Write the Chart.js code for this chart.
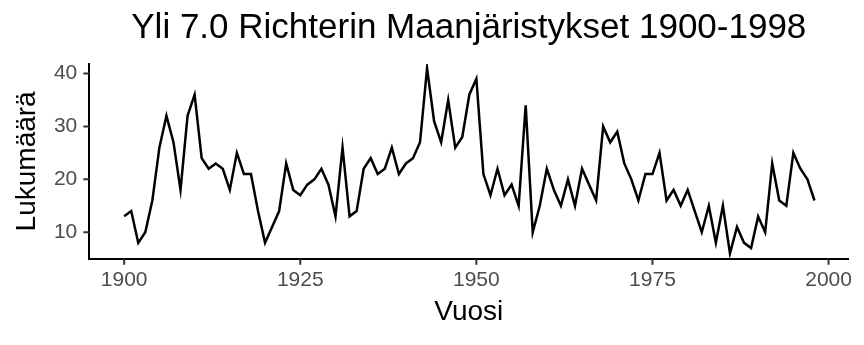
<!DOCTYPE html>
<html>
<head>
<meta charset="utf-8">
<script src="https://cdn.jsdelivr.net/npm/chart.js@4/dist/chart.umd.min.js"></script>
<style>
  html, body { margin: 0; padding: 0; background: #fff; }
  #quakeChart { display: block; }
</style>
</head>
<body>
<canvas id="quakeChart" width="864" height="345"></canvas>
<script>
// Vuodet 1900-1998 ja yli 7.0 Richterin maanjäristysten lukumäärä
const years = [];
for (let y = 1900; y <= 1998; y++) years.push(y);

const quakes = [
  13, 14, 8, 10, 16, 26, 32, 27, 18, 32,
  36, 24, 22, 23, 22, 18, 25, 21, 21, 14,
  8, 11, 14, 23, 18, 17, 19, 20, 22, 19,
  13, 26, 13, 14, 22, 24, 21, 22, 26, 21,
  23, 24, 27, 41, 31, 27, 35, 26, 28, 36,
  39, 21, 17, 22, 17, 19, 15, 34, 10, 15,
  22, 18, 15, 20, 15, 22, 19, 16, 30, 27,
  29, 23, 20, 16, 21, 21, 25, 16, 18, 15,
  18, 14, 10, 15, 8, 15, 6, 11, 8, 7,
  13, 10, 23, 16, 15, 25, 22, 20, 16
];

const xTicks = [1900, 1925, 1950, 1975, 2000];
const yTicks = [10, 20, 30, 40];

const FONT = "'Liberation Sans', Arial, Helvetica, sans-serif";
const TICK_GREY = '#4d4d4d';

// pienet tikkiviivat akselien ulkopuolelle (skaalan omista pikseleistä)
const tickMarks = {
  id: 'tickMarks',
  afterDraw(chart) {
    const { ctx, chartArea: a, scales: { x, y } } = chart;
    ctx.save();
    ctx.strokeStyle = '#333';
    ctx.lineWidth = 2;
    ctx.beginPath();
    xTicks.forEach(v => {
      const px = x.getPixelForValue(v);
      ctx.moveTo(px, a.bottom);
      ctx.lineTo(px, a.bottom + 6);
    });
    yTicks.forEach(v => {
      const py = y.getPixelForValue(v);
      ctx.moveTo(a.left, py);
      ctx.lineTo(a.left - 6, py);
    });
    ctx.stroke();
    ctx.restore();
  }
};

const ctx = document.getElementById('quakeChart').getContext('2d');

new Chart(ctx, {
  type: 'line',
  data: {
    datasets: [{
      data: years.map((y, i) => ({ x: y, y: quakes[i] })),
      borderColor: '#000',
      borderWidth: 2.5,
      pointRadius: 0,
      tension: 0,
      fill: false
    }]
  },
  plugins: [tickMarks],
  options: {
    responsive: false,
    devicePixelRatio: 1,
    animation: false,
    layout: { padding: { left: 0, top: 0, right: 15.7, bottom: 0 } },
    plugins: {
      legend: { display: false },
      tooltip: { enabled: false },
      title: {
        display: true,
        fullSize: false,
        text: 'Yli 7.0 Richterin Maanjäristykset 1900-1998',
        color: '#000',
        font: { family: FONT, size: 35, weight: 'normal' },
        padding: { top: 7.2, bottom: 14.8 }
      }
    },
    scales: {
      x: {
        type: 'linear',
        min: 1895.05,
        max: 2002.8,
        afterBuildTicks: (s) => { s.ticks = xTicks.map(v => ({ value: v })); },
        afterFit: (s) => { s.height = 86.3; },
        grid: { display: true, drawOnChartArea: false, drawTicks: true, tickLength: 6, color: 'rgba(0,0,0,0)' },
        border: { display: true, color: '#000', width: 2 },
        ticks: {
          color: TICK_GREY,
          font: { family: FONT, size: 21 },
          padding: 3,
          maxRotation: 0,
          autoSkip: false,
          callback: (v) => String(v)
        },
        title: {
          display: true,
          text: 'Vuosi',
          color: '#000',
          font: { family: FONT, size: 28 },
          padding: { top: 0, bottom: 15.7 }
        }
      },
      y: {
        type: 'linear',
        min: 5.0,
        max: 41.8,
        afterBuildTicks: (s) => { s.ticks = yTicks.map(v => ({ value: v })); },
        afterFit: (s) => { s.width = 89.3; },
        grid: { display: true, drawOnChartArea: false, drawTicks: true, tickLength: 6, color: 'rgba(0,0,0,0)' },
        border: { display: true, color: '#000', width: 2 },
        ticks: {
          color: TICK_GREY,
          font: { family: FONT, size: 21 },
          padding: 6,
          callback: (v) => String(v)
        },
        title: {
          display: true,
          text: 'Lukumäärä',
          color: '#000',
          font: { family: FONT, size: 28 },
          padding: { top: 10.7, bottom: 0 }
        }
      }
    }
  }
});
</script>
</body>
</html>
